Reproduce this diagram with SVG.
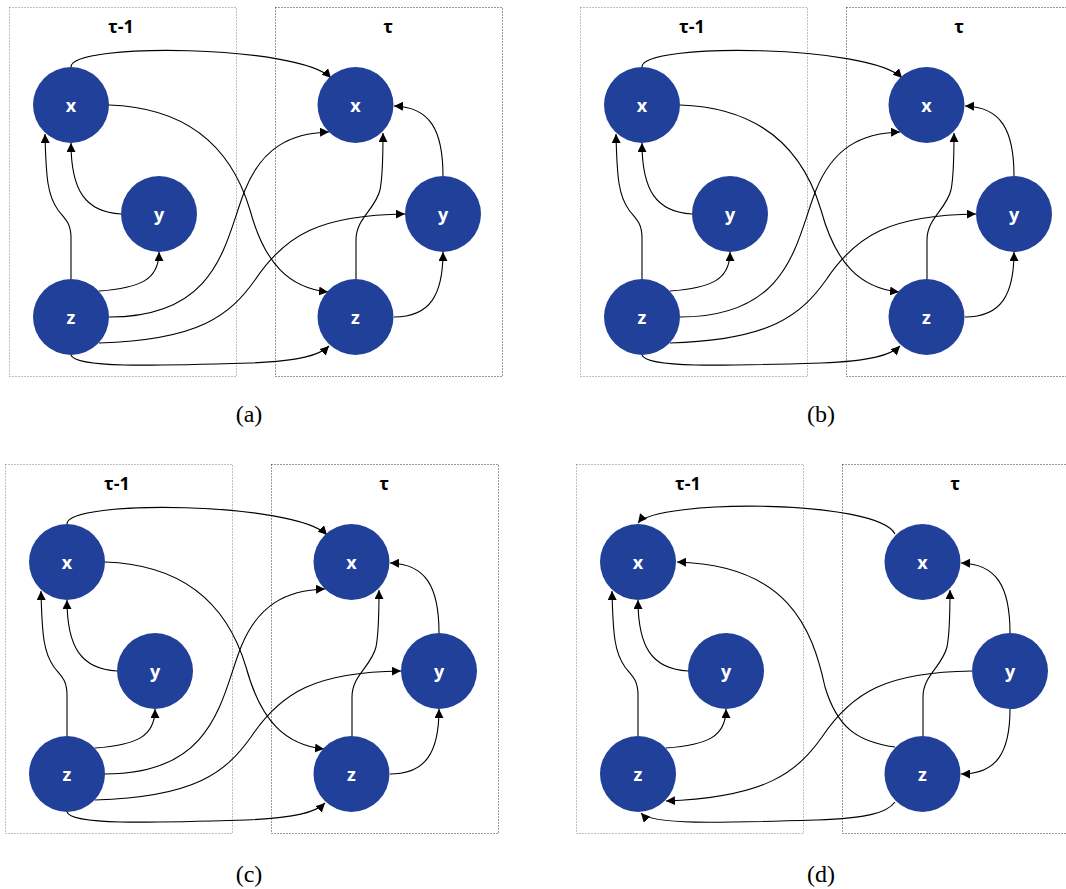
<svg xmlns="http://www.w3.org/2000/svg" width="1066" height="889" viewBox="0 0 1066 889">
<style>
.box{fill:none;stroke:#808080;stroke-width:1;stroke-dasharray:1 2}
.box2{fill:none;stroke:#333;stroke-width:1;stroke-dasharray:1 2}
.node{fill:#21409a}
.lbl{fill:#fff;font-family:"Open Sans","Noto Sans",sans-serif;font-weight:bold;font-size:18px;text-anchor:middle}
.ttl{fill:#000;font-family:"Open Sans","Noto Sans",sans-serif;font-weight:bold;font-size:18px;text-anchor:middle}
.cap{fill:#000;font-family:"Liberation Serif",serif;font-size:24px;text-anchor:middle}
.e{fill:none;stroke:#000;stroke-width:1.1;marker-end:url(#ah)}
</style>
<defs>
<marker id="ah" markerUnits="userSpaceOnUse" markerWidth="10" markerHeight="9" refX="9" refY="4.5" orient="auto">
<path d="M0,0 L9,4.5 L0,9 z" fill="#000"/>
</marker>
</defs>
<rect width="1066" height="889" fill="#fff"/>

<!-- Panel a -->
<g id="panel-a" transform="translate(0,0)">
<rect class="box" x="9.5" y="7.5" width="227" height="369"/>
<rect class="box2" x="275.5" y="7.5" width="227" height="369"/>
<text class="ttl" x="121" y="33">τ-1</text>
<text class="ttl" x="388" y="33">τ</text>
<g id="a-edges">
<path class="e" d="M71,67 C71,42 300,45 331,78"/>
<path class="e" d="M109,105 C200,108 235,160 250,210 C265,265 290,288 328,292"/>
<path class="e" d="M121,214 C85,212 71,190 71,143"/>
<path class="e" d="M71,279 L71,238 C71,222 64,218 58,210 C48,196 46,180 45,134"/>
<path class="e" d="M99,291 C140,288 159,280 159,252"/>
<path class="e" d="M109,317 C220,317 225,240 245,190 C262,148 290,133 329,132"/>
<path class="e" d="M99,343 C200,340 230,315 255,280 C285,235 320,215 405,214"/>
<path class="e" d="M71,355 C75,368 150,366 250,363 C300,361 320,355 329,346"/>
<path class="e" d="M356,279 L356,240 C356,218 375,210 380,190 C383,175 383,150 383,133"/>
<path class="e" d="M443,176 C443,130 430,107 394,106"/>
<path class="e" d="M394,317 C430,317 443,295 443,252"/>
</g>
<g id="a-x1"><circle class="node" cx="71" cy="105" r="38"/><text class="lbl" x="71" y="112">x</text></g>
<g id="a-y1"><circle class="node" cx="159" cy="214" r="38"/><text class="lbl" x="159" y="221">y</text></g>
<g id="a-z1"><circle class="node" cx="71" cy="317" r="38"/><text class="lbl" x="71" y="324">z</text></g>
<g id="a-x2"><circle class="node" cx="355.5" cy="105" r="38"/><text class="lbl" x="355.5" y="112">x</text></g>
<g id="a-y2"><circle class="node" cx="443" cy="214" r="38"/><text class="lbl" x="443" y="221">y</text></g>
<g id="a-z2"><circle class="node" cx="355.5" cy="317" r="38"/><text class="lbl" x="355.5" y="324">z</text></g>
</g>

<!-- Panel b -->
<g id="panel-b" transform="translate(571,0)">
<rect class="box" x="9.5" y="7.5" width="227" height="369"/>
<rect class="box2" x="275.5" y="7.5" width="227" height="369"/>
<text class="ttl" x="121" y="33">τ-1</text>
<text class="ttl" x="388" y="33">τ</text>
<g id="b-edges">
<path class="e" d="M71,67 C71,42 300,45 331,78"/>
<path class="e" d="M109,105 C200,108 235,160 250,210 C265,265 290,288 328,292"/>
<path class="e" d="M121,214 C85,212 71,190 71,143"/>
<path class="e" d="M71,279 L71,238 C71,222 64,218 58,210 C48,196 46,180 45,134"/>
<path class="e" d="M99,291 C140,288 159,280 159,252"/>
<path class="e" d="M109,317 C220,317 225,240 245,190 C262,148 290,133 329,132"/>
<path class="e" d="M99,343 C200,340 230,315 255,280 C285,235 320,215 405,214"/>
<path class="e" d="M71,355 C75,368 150,366 250,363 C300,361 320,355 329,346"/>
<path class="e" d="M356,279 L356,240 C356,218 375,210 380,190 C383,175 383,150 383,133"/>
<path class="e" d="M443,176 C443,130 430,107 394,106"/>
<path class="e" d="M394,317 C430,317 443,295 443,252"/>
</g>
<g id="b-x1"><circle class="node" cx="71" cy="105" r="38"/><text class="lbl" x="71" y="112">x</text></g>
<g id="b-y1"><circle class="node" cx="159" cy="214" r="38"/><text class="lbl" x="159" y="221">y</text></g>
<g id="b-z1"><circle class="node" cx="71" cy="317" r="38"/><text class="lbl" x="71" y="324">z</text></g>
<g id="b-x2"><circle class="node" cx="355.5" cy="105" r="38"/><text class="lbl" x="355.5" y="112">x</text></g>
<g id="b-y2"><circle class="node" cx="443" cy="214" r="38"/><text class="lbl" x="443" y="221">y</text></g>
<g id="b-z2"><circle class="node" cx="355.5" cy="317" r="38"/><text class="lbl" x="355.5" y="324">z</text></g>
</g>

<!-- Panel c -->
<g id="panel-c" transform="translate(-4,457)">
<rect class="box" x="9.5" y="7.5" width="227" height="369"/>
<rect class="box2" x="275.5" y="7.5" width="227" height="369"/>
<text class="ttl" x="121" y="33">τ-1</text>
<text class="ttl" x="388" y="33">τ</text>
<g id="c-edges">
<path class="e" d="M71,67 C71,42 300,45 331,78"/>
<path class="e" d="M109,105 C200,108 235,160 250,210 C265,265 290,288 328,292"/>
<path class="e" d="M121,214 C85,212 71,190 71,143"/>
<path class="e" d="M71,279 L71,238 C71,222 64,218 58,210 C48,196 46,180 45,134"/>
<path class="e" d="M99,291 C140,288 159,280 159,252"/>
<path class="e" d="M109,317 C220,317 225,240 245,190 C262,148 290,133 329,132"/>
<path class="e" d="M99,343 C200,340 230,315 255,280 C285,235 320,215 405,214"/>
<path class="e" d="M71,355 C75,368 150,366 250,363 C300,361 320,355 329,346"/>
<path class="e" d="M356,279 L356,240 C356,218 375,210 380,190 C383,175 383,150 383,133"/>
<path class="e" d="M443,176 C443,130 430,107 394,106"/>
<path class="e" d="M394,317 C430,317 443,295 443,252"/>
</g>
<g id="c-x1"><circle class="node" cx="71" cy="105" r="38"/><text class="lbl" x="71" y="112">x</text></g>
<g id="c-y1"><circle class="node" cx="159" cy="214" r="38"/><text class="lbl" x="159" y="221">y</text></g>
<g id="c-z1"><circle class="node" cx="71" cy="317" r="38"/><text class="lbl" x="71" y="324">z</text></g>
<g id="c-x2"><circle class="node" cx="355.5" cy="105" r="38"/><text class="lbl" x="355.5" y="112">x</text></g>
<g id="c-y2"><circle class="node" cx="443" cy="214" r="38"/><text class="lbl" x="443" y="221">y</text></g>
<g id="c-z2"><circle class="node" cx="355.5" cy="317" r="38"/><text class="lbl" x="355.5" y="324">z</text></g>
</g>

<!-- Panel d -->
<g id="panel-d" transform="translate(567,457)">
<rect class="box" x="9.5" y="7.5" width="227" height="369"/>
<rect class="box2" x="275.5" y="7.5" width="227" height="369"/>
<text class="ttl" x="121" y="33">τ-1</text>
<text class="ttl" x="388" y="33">τ</text>
<g id="d-edges">
<path class="e" d="M328,77 C310,42 90,42 71,66"/>
<path class="e" d="M328,290 C290,285 270,270 258,230 C245,170 220,108 110,105"/>
<path class="e" d="M121,214 C85,212 71,190 71,143"/>
<path class="e" d="M71,279 L71,238 C71,222 64,218 58,210 C48,196 46,180 45,134"/>
<path class="e" d="M99,291 C140,288 159,280 159,252"/>
<path class="e" d="M405,214 C320,215 285,235 255,280 C230,315 200,340 99,344"/>
<path class="e" d="M328,345 C320,356 300,361 250,363 C150,366 85,368 74,356"/>
<path class="e" d="M356,279 L356,240 C356,218 375,210 380,190 C383,175 383,150 383,133"/>
<path class="e" d="M443,176 C443,130 430,107 394,106"/>
<path class="e" d="M443,252 C443,295 430,317 394,317"/>
</g>
<g id="d-x1"><circle class="node" cx="71" cy="105" r="38"/><text class="lbl" x="71" y="112">x</text></g>
<g id="d-y1"><circle class="node" cx="159" cy="214" r="38"/><text class="lbl" x="159" y="221">y</text></g>
<g id="d-z1"><circle class="node" cx="71" cy="317" r="38"/><text class="lbl" x="71" y="324">z</text></g>
<g id="d-x2"><circle class="node" cx="355.5" cy="105" r="38"/><text class="lbl" x="355.5" y="112">x</text></g>
<g id="d-y2"><circle class="node" cx="443" cy="214" r="38"/><text class="lbl" x="443" y="221">y</text></g>
<g id="d-z2"><circle class="node" cx="355.5" cy="317" r="38"/><text class="lbl" x="355.5" y="324">z</text></g>
</g>

<g id="captions">
<text class="cap" x="249" y="422">(a)</text>
<text class="cap" x="821" y="422">(b)</text>
<text class="cap" x="249" y="882">(c)</text>
<text class="cap" x="821" y="882">(d)</text>
</g>
</svg>
